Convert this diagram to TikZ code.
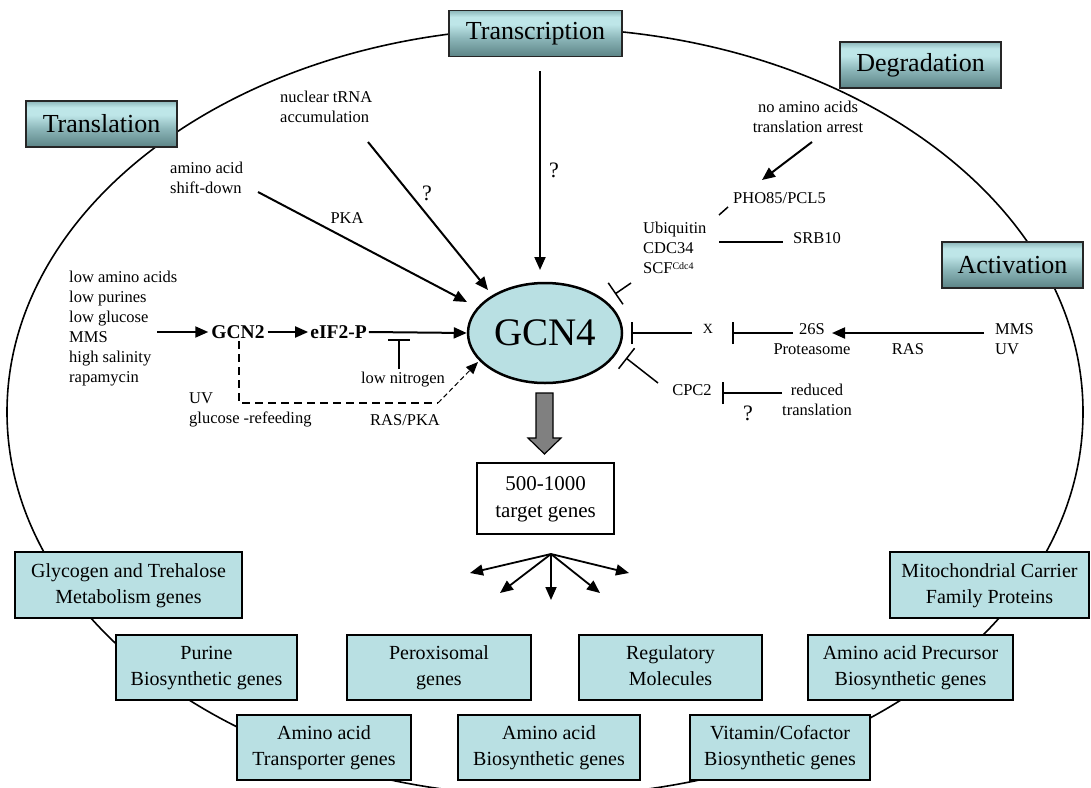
\documentclass[tikz,border=0pt]{standalone}
\usepackage{fontspec}
\setmainfont{Liberation Serif}
\usetikzlibrary{arrows.meta,shapes.geometric}
\definecolor{boxfill}{RGB}{185,224,227}
\definecolor{gdark}{RGB}{92,132,134}
\definecolor{gmid}{RGB}{140,182,185}
\definecolor{glight}{RGB}{190,230,232}
\definecolor{arrowgray}{RGB}{128,128,128}
\pgfdeclareverticalshading{titleshade}{100bp}{color(0bp)=(gdark); color(25bp)=(gdark); color(45bp)=(gmid); color(60bp)=(glight); color(68bp)=(glight); color(75bp)=(gmid); color(100bp)=(gmid)}
\newcommand\lblfont{\fontsize{16.5}{20}\selectfont}
\newcommand\gl[1]{#1\strut}
\tikzset{
  titlebox/.style={draw=black!85, line width=1.8pt, shade, shading=titleshade, inner sep=0pt, minimum height=46pt, font=\fontsize{26}{30}\selectfont},
  genebox/.style={draw=black, line width=2.4pt, fill=boxfill, inner sep=0pt, align=center, minimum height=65pt, font=\fontsize{20}{26}\selectfont},
  lbl/.style={inner sep=0pt, font=\lblfont, align=left},
  lblc/.style={inner sep=0pt, font=\lblfont, align=center},
  qmark/.style={inner sep=0pt, font=\fontsize{22}{22}\selectfont},
  boldlbl/.style={inner sep=3pt, font=\fontsize{19.5}{22}\selectfont\bfseries},
  arr/.style={line width=2pt, -{Triangle[length=13pt,width=11pt]}},
  fanarr/.style={line width=1.8pt, -{Triangle[length=13pt,width=11pt]}},
  inh/.style={line width=1.5pt, -{Bar[width=22pt,line width=1.5pt]}},
  plainln/.style={line width=1.5pt},
  dashln/.style={line width=2pt, dash pattern=on 8pt off 5pt},
  thindash/.style={line width=1pt, dash pattern=on 5pt off 3pt, -{Triangle[length=12pt,width=10pt]}},
}
\begin{document}
\begin{tikzpicture}[x=1pt,y=-1pt]
\useasboundingbox (0,0) rectangle (1091,787);
\fill[white] (0,0) rectangle (1091,787);
\draw[line width=1.6pt] (545,412) ellipse [x radius=538, y radius=384];

% title boxes
\node[titlebox, minimum width=151pt] (translation) at (101.5,124) {Translation};
\node[titlebox, minimum width=173pt] (transcription) at (535.5,33.5) {Transcription};
\node[titlebox, minimum width=161pt] (degradation) at (920.5,65) {Degradation};
\node[titlebox, minimum width=141pt] (activation) at (1012.5,265) {Activation};

% central GCN4
\node[ellipse, draw, line width=2.5pt, fill=boxfill, minimum width=154pt, minimum height=100pt, inner sep=0pt, font=\fontsize{39}{39}\selectfont] (gcn4) at (545,333) {GCN4};

% big grey arrow
\draw[fill=arrowgray, line width=1.2pt] (536,393) -- (553,393) -- (553,438) -- (561,438) -- (544.5,454) -- (528,438) -- (536,438) -- cycle;

% target box
\node[draw, line width=1.8pt, fill=white, minimum width=137pt, minimum height=71pt, inner sep=0pt, align=center, font=\fontsize{21}{27}\selectfont] (targets) at (545.5,498.5) {\gl{500-1000}\\\gl{target genes}};

% fan of arrows
\coordinate (fan) at (551,554);
\coordinate (f1) at (470,573);
\coordinate (f2) at (500,593);
\coordinate (f3) at (551,600);
\coordinate (f4) at (600,593);
\coordinate (f5) at (629,573);
\foreach \f in {f1,f2,f3,f4,f5} \draw[fanarr] (fan) -- (\f);

% gene boxes
\node[genebox, minimum width=227pt, minimum height=66pt] (glyco) at (128.5,585) {\gl{Glycogen and Trehalose}\\\gl{Metabolism genes}};
\node[genebox, minimum width=199pt, minimum height=66pt] (mito) at (989.5,585) {\gl{Mitochondrial Carrier}\\\gl{Family Proteins}};
\node[genebox, minimum width=181pt] (purine) at (206.5,667.5) {\gl{Purine}\\\gl{Biosynthetic genes}};
\node[genebox, minimum width=184pt] (perox) at (439,667.5) {\gl{Peroxisomal}\\\gl{genes}};
\node[genebox, minimum width=183pt] (regul) at (670.5,667.5) {\gl{Regulatory}\\\gl{Molecules}};
\node[genebox, minimum width=205pt] (precur) at (910.5,667.5) {\gl{Amino acid Precursor}\\\gl{Biosynthetic genes}};
\node[genebox, minimum width=174pt] (transp) at (324,747.5) {\gl{Amino acid}\\\gl{Transporter genes}};
\node[genebox, minimum width=182pt] (aabio) at (549,747.5) {\gl{Amino acid}\\\gl{Biosynthetic genes}};
\node[genebox, minimum width=180pt] (vitam) at (780,747.5) {\gl{Vitamin/Cofactor}\\\gl{Biosynthetic genes}};

% ---- left / top inputs ----
\coordinate (tr1) at (540,71);
\coordinate (tr2) at (540,270);
\draw[arr] (tr1) -- (tr2);
\node[qmark] (q1) at (554,170) {?};

\node[lbl, anchor=west] (ntrna) at (280,107) {nuclear tRNA\\accumulation};
\coordinate (nt1) at (368,142);
\coordinate (nt2) at (488,290);
\draw[arr] (nt1) -- (nt2);
\node[qmark] (q2) at (427,193) {?};

\node[lbl, anchor=west] (shift) at (170,178) {amino acid\\shift-down};
\coordinate (sd1) at (258,192);
\coordinate (sd2) at (467,302);
\draw[arr] (sd1) -- (sd2);
\node[lblc] (pka) at (347,218) {PKA};

\node[lbl, anchor=west] (stress) at (69,329) {low amino acids\\low purines\\low glucose\\MMS\\high salinity\\rapamycin};
\coordinate (in1) at (157,332);
\node[boldlbl] (gcn2) at (238,332) {GCN2};
\node[boldlbl, inner sep=2pt] (eif) at (338.5,332) {eIF2-P};
\draw[arr] (in1) -- (gcn2.west);
\draw[arr] (gcn2.east) -- (eif.west);
\draw[arr] (eif.east) -- (gcn4.west);

\node[lblc] (lown) at (403,380) {low nitrogen};
\coordinate (ln1) at (399,369);
\coordinate (ln2) at (399,339);
\draw[inh] (ln1) -- (ln2);

\coordinate (d1) at (239,341);
\coordinate (d2) at (239,403);
\coordinate (d3) at (438,403);
\coordinate (d4) at (478,362);
\draw[dashln] (d1) -- (d2) -- (d3);
\draw[thindash] (d3) -- (d4);
\node[lbl, anchor=west] (uv) at (189,410) {UV\\glucose -refeeding};
\node[lblc] (raspka) at (405,420) {RAS/PKA};

% ---- right side ----
\node[lblc] (noaa) at (808,117) {no amino acids\\translation arrest};
\coordinate (na1) at (812,142);
\coordinate (na2) at (762,180);
\draw[arr] (na1) -- (na2);
\node[lbl, anchor=west] (pho) at (733,198) {PHO85/PCL5};
\coordinate (ph1) at (719,215);
\coordinate (ph2) at (728,207);
\draw[plainln] (ph1) -- (ph2);

\node[lbl, anchor=west] (ubi) at (643,248) {Ubiquitin\\CDC34\\SCF\raisebox{0.55ex}{\fontsize{10}{10}\selectfont Cdc4}};
\node[lbl, anchor=west] (srb) at (793,238) {SRB10};
\coordinate (sr1) at (719,242);
\coordinate (sr2) at (783,242);
\draw[plainln] (sr1) -- (sr2);

\coordinate (u1) at (631,283);
\coordinate (u2) at (615,294);
\draw[inh, -{Bar[width=26pt,line width=1.5pt]}] (u1) -- (u2);

\node[inner sep=0pt, font=\fontsize{14}{14}\selectfont] (x) at (708,329) {X};
\coordinate (x1) at (692,333);
\coordinate (x2) at (631,333);
\draw[inh] (x1) -- (x2);

\node[lblc] (prot) at (812,339) {26S\\Proteasome};
\coordinate (p1) at (793,333);
\coordinate (p2) at (732,333);
\draw[inh] (p1) -- (p2);

\node[lbl, anchor=west] (mms) at (995,339) {MMS\\UV};
\coordinate (m1) at (984,333);
\coordinate (m2) at (832,333);
\draw[arr] (m1) -- (m2);
\node[lblc] (ras) at (908,349) {RAS};

\coordinate (c1) at (658,383);
\coordinate (c2) at (626,358);
\draw[inh, -{Bar[width=26pt,line width=1.5pt]}] (c1) -- (c2);

\node[lblc] (cpc2) at (692,390) {CPC2};
\coordinate (cp1) at (782,393);
\coordinate (cp2) at (722,393);
\draw[inh] (cp1) -- (cp2);
\node[lblc] (redtr) at (817,400) {reduced\\translation};
\node[qmark] (q3) at (748,413) {?};
\end{tikzpicture}
\end{document}
